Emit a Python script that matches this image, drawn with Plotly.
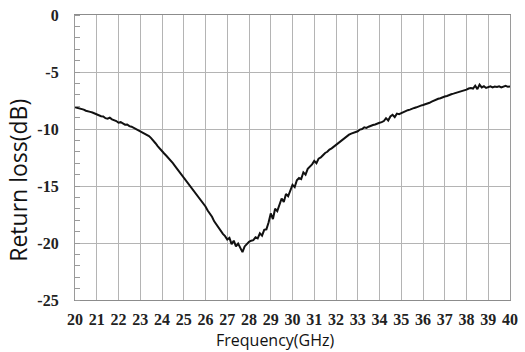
import plotly.graph_objects as go

freq_ghz = [round(20 + 0.1 * i, 1) for i in range(201)]

return_loss_db = [
    -8.10, -8.15, -8.20, -8.22, -8.30, -8.40, -8.42, -8.50, -8.55, -8.65,
    -8.75, -8.78, -8.88, -8.90, -9.05, -9.10, -9.00, -9.15, -9.22, -9.30,
    -9.45, -9.40, -9.50, -9.62, -9.60, -9.75, -9.80, -9.90, -9.95, -10.05,
    -10.15, -10.25, -10.35, -10.50, -10.62, -10.80, -11.00, -11.25, -11.50, -11.75,
    -12.00, -12.15, -12.35, -12.55, -12.75, -13.00, -13.25, -13.50, -13.80, -14.05,
    -14.30, -14.55, -14.80, -15.05, -15.30, -15.60, -15.80, -16.05, -16.30, -16.55,
    -16.80, -17.15, -17.40, -17.70, -18.10, -18.40, -18.70, -18.90, -19.20, -19.40,
    -19.70, -19.55, -20.10, -19.80, -20.30, -20.05, -20.40, -20.80, -20.30, -20.10,
    -19.90, -19.80, -19.75, -19.50, -19.60, -19.15, -19.35, -18.85, -18.80, -18.20,
    -17.40, -17.90, -17.00, -17.20, -16.60, -16.10, -16.40, -15.70, -15.90, -15.30,
    -14.90, -15.10, -14.50, -14.30, -14.40, -13.80, -14.00, -13.50, -13.30, -13.10,
    -12.80, -13.00, -12.60, -12.50, -12.30, -12.10, -12.00, -11.80, -11.70, -11.55,
    -11.40, -11.20, -11.10, -10.90, -10.80, -10.60, -10.50, -10.40, -10.35, -10.25,
    -10.20, -10.05, -10.00, -9.85, -9.90, -9.80, -9.70, -9.65, -9.60, -9.50,
    -9.45, -9.40, -9.30, -9.05, -9.25, -8.90, -8.75, -8.95, -8.65, -8.70,
    -8.60, -8.50, -8.45, -8.35, -8.30, -8.20, -8.15, -8.10, -8.00, -7.95,
    -7.90, -7.85, -7.75, -7.70, -7.60, -7.50, -7.45, -7.35, -7.30, -7.20,
    -7.15, -7.10, -7.00, -6.95, -6.90, -6.85, -6.80, -6.72, -6.65, -6.60,
    -6.55, -6.45, -6.40, -6.45, -6.20, -6.50, -6.10, -6.35, -6.25, -6.40,
    -6.30, -6.25, -6.35, -6.28, -6.32, -6.25, -6.35, -6.30, -6.22, -6.30,
    -6.28,
]

x_ticks = list(range(20, 41))
y_ticks = [0, -5, -10, -15, -20, -25]

fig = go.Figure()
fig.add_trace(go.Scatter(
    x=freq_ghz, y=return_loss_db, mode="lines",
    line=dict(color="#111111", width=2),
    showlegend=False,
))

grid_col = "#b4b4b4"
tick_font = dict(family="Liberation Serif", size=16, color="#222222", weight="bold")

fig.update_xaxes(
    range=[20, 40], tickvals=x_ticks, ticktext=[str(v) for v in x_ticks],
    showgrid=True, gridcolor=grid_col, gridwidth=1.3,
    showline=True, linecolor="#8c8c8c", linewidth=1.3, mirror=True,
    ticks="", tickfont=tick_font, ticklabelstandoff=5,
    zeroline=False,
)
fig.update_yaxes(
    range=[-25, 0], tickvals=y_ticks, ticktext=[str(v) for v in y_ticks],
    showgrid=True, gridcolor=grid_col, gridwidth=1.3,
    showline=True, linecolor="#9a9a9a", linewidth=1.3, mirror=True,
    ticks="", tickfont=tick_font, ticklabelstandoff=12,
    minor=dict(dtick=1, ticks="inside", ticklen=5, tickcolor="#9a9a9a", tickwidth=1, showgrid=False),
    zeroline=False,
)

fig.add_annotation(
    text="Return loss(dB)", xref="paper", yref="paper",
    x=-0.13, y=0.42, textangle=-90, showarrow=False,
    xanchor="center", yanchor="middle",
    font=dict(family="Open Sans", size=23, color="#111111"),
)
fig.add_annotation(
    text="Frequency(GHz)", xref="paper", yref="paper",
    x=0.461, y=-0.14, showarrow=False,
    xanchor="center", yanchor="middle",
    font=dict(family="Open Sans", size=16, color="#111111"),
)

fig.update_layout(
    width=525, height=352,
    margin=dict(l=75, r=7, t=13, b=52),
    plot_bgcolor="white", paper_bgcolor="white",
)

fig.write_html("out.html")
